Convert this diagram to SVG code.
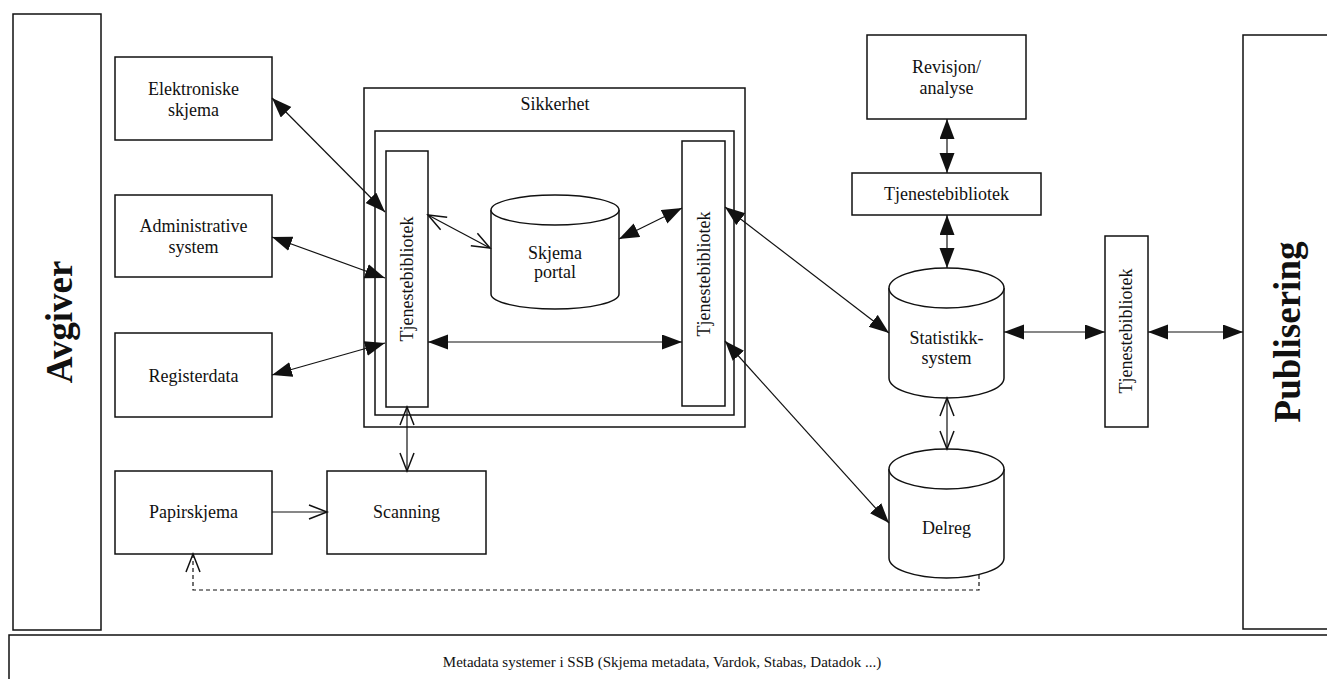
<svg xmlns="http://www.w3.org/2000/svg" width="1327" height="679" viewBox="0 0 1327 679">
<style>
.box{fill:#fff;stroke:#111;stroke-width:1.5}
.t{font-family:"Liberation Serif","Times New Roman",serif;font-size:18px;fill:#111;text-anchor:middle}
.big{font-family:"Liberation Serif","Times New Roman",serif;font-size:37px;font-weight:bold;fill:#111;text-anchor:middle}
.c{stroke:#111;stroke-width:1.2;fill:none}
.f{marker-start:url(#fa);marker-end:url(#fa)}
.o{marker-start:url(#oa);marker-end:url(#oa)}
</style>
<defs>
<marker id="fa" markerUnits="userSpaceOnUse" markerWidth="22" markerHeight="17" refX="20" refY="7.5" orient="auto-start-reverse" viewBox="0 0 22 17">
<path d="M0,0 L20,7.5 L0,15 z" fill="#111"/>
</marker>
<marker id="oa" markerUnits="userSpaceOnUse" markerWidth="22" markerHeight="18" refX="19" refY="8" orient="auto-start-reverse" viewBox="0 0 22 18">
<path d="M1,1 L19,8 L1,15" fill="none" stroke="#111" stroke-width="1.5"/>
</marker>
</defs>

<g id="metadata">
<rect class="box" x="9" y="635" width="1330" height="60"/>
<text class="t" x="662" y="667" style="font-size:15px">Metadata systemer i SSB (Skjema metadata, Vardok, Stabas, Datadok ...)</text>
</g>

<g id="avgiver">
<rect class="box" x="13" y="14" width="88" height="616"/>
<text class="big" transform="translate(72,322) rotate(-90)">Avgiver</text>
</g>

<g id="publisering">
<rect class="box" x="1243" y="35" width="100" height="594"/>
<text class="big" transform="translate(1300,332) rotate(-90)">Publisering</text>
</g>

<g id="elektroniske">
<rect class="box" x="115" y="57" width="157" height="83"/>
<text class="t" x="193.5" y="95">Elektroniske</text>
<text class="t" x="193.5" y="116">skjema</text>
</g>

<g id="administrative">
<rect class="box" x="115" y="195" width="157" height="82"/>
<text class="t" x="193.5" y="232">Administrative</text>
<text class="t" x="193.5" y="253">system</text>
</g>

<g id="registerdata">
<rect class="box" x="115" y="333" width="157" height="84"/>
<text class="t" x="193.5" y="382">Registerdata</text>
</g>

<g id="papirskjema">
<rect class="box" x="115" y="471" width="157" height="83"/>
<text class="t" x="193.5" y="518">Papirskjema</text>
</g>

<g id="scanning">
<rect class="box" x="327" y="471" width="159" height="83"/>
<text class="t" x="406.5" y="518">Scanning</text>
</g>

<g id="sikkerhet">
<rect class="box" x="364" y="88" width="381" height="339"/>
<text class="t" x="555" y="110">Sikkerhet</text>
<rect class="box" x="375" y="131" width="359" height="284"/>
</g>

<g id="tjeneste-venstre">
<rect class="box" x="386" y="151" width="42" height="256"/>
<text class="t" transform="translate(413,279) rotate(-90)">Tjenestebibliotek</text>
</g>

<g id="tjeneste-hoyre">
<rect class="box" x="682" y="141" width="43" height="265"/>
<text class="t" transform="translate(710,274) rotate(-90)">Tjenestebibliotek</text>
</g>

<g id="skjemaportal">
<path class="box" d="M491,210 L491,294 A64,15 0 0 0 619,294 L619,210"/>
<ellipse class="box" cx="555" cy="210" rx="64" ry="15"/>
<text class="t" x="555" y="259">Skjema</text>
<text class="t" x="555" y="278">portal</text>
</g>

<g id="revisjon">
<rect class="box" x="867" y="35" width="159" height="84"/>
<text class="t" x="946.5" y="73">Revisjon/</text>
<text class="t" x="946.5" y="94">analyse</text>
</g>

<g id="tjeneste-topp">
<rect class="box" x="852" y="173" width="189" height="42"/>
<text class="t" x="946.5" y="200">Tjenestebibliotek</text>
</g>

<g id="statistikk">
<path class="box" d="M889,288 L889,378 A57.5,20 0 0 0 1004,378 L1004,288"/>
<ellipse class="box" cx="946.5" cy="288" rx="57.5" ry="20"/>
<text class="t" x="946.5" y="344">Statistikk-</text>
<text class="t" x="946.5" y="364">system</text>
</g>

<g id="delreg">
<path class="box" d="M889,469 L889,558 A57.5,20 0 0 0 1004,558 L1004,469"/>
<ellipse class="box" cx="946.5" cy="469" rx="57.5" ry="20"/>
<text class="t" x="946.5" y="534">Delreg</text>
</g>

<g id="tjeneste-publ">
<rect class="box" x="1105" y="236" width="43" height="191"/>
<text class="t" transform="translate(1132,331) rotate(-90)">Tjenestebibliotek</text>
</g>

<g id="connectors">
<line class="c f" x1="272" y1="98" x2="385" y2="212"/>
<line class="c f" x1="272" y1="237" x2="385" y2="278"/>
<line class="c f" x1="272" y1="375" x2="385" y2="343"/>
<line class="c o" x1="428" y1="215" x2="490" y2="248"/>
<line class="c f" x1="619" y1="239" x2="682" y2="208"/>
<line class="c f" x1="428" y1="342" x2="682" y2="342"/>
<line class="c o" x1="407" y1="407" x2="407" y2="471"/>
<line class="c" x1="272" y1="512" x2="327" y2="512" marker-end="url(#oa)"/>
<line class="c f" x1="725" y1="207" x2="889" y2="333"/>
<line class="c f" x1="725" y1="341" x2="889" y2="523"/>
<line class="c f" x1="1004" y1="332" x2="1105" y2="332"/>
<line class="c f" x1="1148" y1="332" x2="1243" y2="332"/>
<line class="c f" x1="947" y1="119" x2="947" y2="173"/>
<line class="c f" x1="947" y1="215" x2="947" y2="268"/>
<line class="c o" x1="947" y1="398" x2="947" y2="449"/>
<path class="c" d="M979,575 V590 H193 V554" stroke-dasharray="4,3" marker-end="url(#oa)"/>
</g>
</svg>
